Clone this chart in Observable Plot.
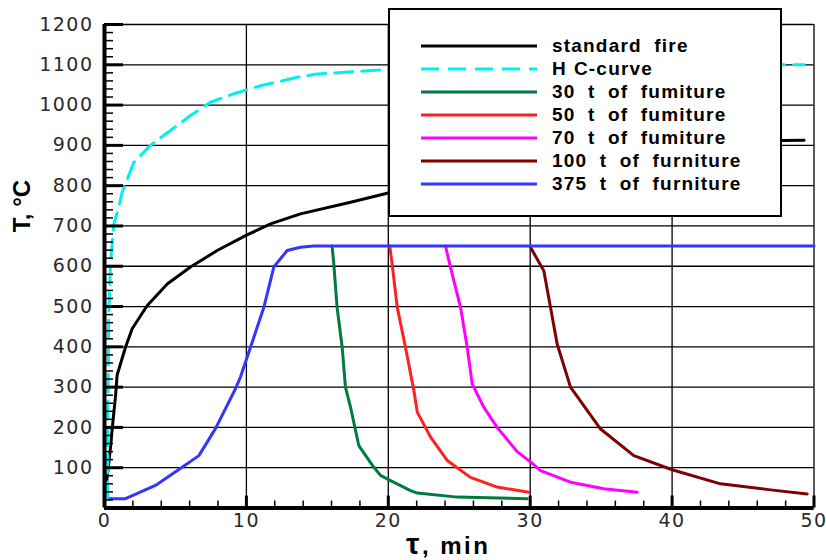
<!DOCTYPE html>
<html><head><meta charset="utf-8">
<script src="https://cdn.jsdelivr.net/npm/d3@7"></script>
<script src="https://cdn.jsdelivr.net/npm/@observablehq/plot@0.6"></script>
<style>
body{margin:0;background:#fff;}
#wrap{position:relative;width:826px;height:560px;overflow:hidden;}
.chart text{letter-spacing:1.5px;fill:#2a2a2a;}
.ttl{position:absolute;font-family:"Liberation Sans",Arial,sans-serif;font-weight:bold;color:#000;white-space:nowrap;line-height:1;}
#legend{position:absolute;left:388px;top:8px;width:394px;height:209px;box-sizing:border-box;border:2px solid #000;background:#fff;}
.lrow{position:absolute;left:0;height:20px;}
.lrow svg{position:absolute;left:31px;top:0;}
.lrow span{position:absolute;left:162px;top:0;font:bold 19px "Liberation Sans",Arial,sans-serif;line-height:20px;letter-spacing:1.2px;word-spacing:6px;white-space:nowrap;color:#000;}
</style></head>
<body><div id="wrap"></div>
<script>
// ---- data ----
const seriesNames = ["standard fire","HC-curve","30 t of fumiture","50 t of fumiture","70 t of fumiture","100 t of furniture","375 t of furniture"];
const seriesColors = ["#000000","#00f0f0","#007a3d","#ff2020","#ff00ff","#7f0000","#3535ff"];
const seriesDash = [null,"18,9",null,null,null,null,null];

const xTicks = [0,10,20,30,40,50];
const xMinor = [2,4,6,8,12,14,16,18,22,24,26,28,32,34,36,38,42,44,46,48];
const yTicks = [100,200,300,400,500,600,700,800,900,1000,1100,1200];
const yMinor = [20,40,60,80,120,140,160,180,220,240,260,280,320,340,360,380,420,440,460,480,520,540,560,580,620,640,660,680,720,740,760,780,820,840,860,880,920,940,960,980,1020,1040,1060,1080,1120,1140,1160,1180];

const stdTime = [0,0.3,0.45,0.54,0.78,0.89,1.48,1.95,3.0,4.42,6.06,7.94,9.94,11.7,13.81,17.34,19.92,25,30,40,47.8,49.3];
const stdTemp = [20,110,160,196,279,330,399,445,502,556,598,639,676,705,730,759,781,815,842,885,912,913];

const hcTime = [0.15,0.22,0.24,0.3,0.42,0.66,1.0,1.25,1.48,2.07,3.24,4.65,6.06,7.47,9.11,10.99,13.58,14.99,19.92,25,30,40,47.8,49.3];
const hcTemp = [20,30,250,480,606,705,746,784,804,858,900,937,974,1007,1028,1048,1069,1077,1088,1093,1096,1099,1100,1100];

const f30Time = [16.04,16.16,16.39,16.75,16.98,17.34,17.92,18.98,19.45,20.16,21.57,22.04,24.86,29.79];
const f30Temp = [650,606,498,399,300,250,155,101,81,68,43,37,27,23];

const f50Time = [20.1,20.27,20.63,21.21,21.8,22.04,22.98,24.15,25.79,27.67,29.9];
const f50Temp = [650,606,498,399,292,238,176,118,76,52,39];

const f70Time = [24.03,24.38,25.09,25.56,25.91,26.73,27.67,29.08,30.0,30.73,32.84,35.19,37.54];
const f70Temp = [650,598,498,399,308,250,200,140,115,93,64,48,39];

const f100Time = [29.97,30.96,31.43,31.9,32.84,34.96,37.3,40.0,43.41,46.94,49.52];
const f100Temp = [650,589,498,407,300,196,130,95,60,45,35];

const f375Time = [0.07,1.48,3.59,5.47,6.65,7.82,9.23,9.58,10.29,11.23,11.93,12.87,13.81,14.75,50];
const f375Temp = [23,23,56,101,130,197,296,325,399,498,598,639,647,650,650];

// ---- build ----
const rows = (name, ts, vs) => ts.map((t, i) => ({series: name, t, T: vs[i]}));
const solid = [
  ...rows(seriesNames[0], stdTime, stdTemp),
  ...rows(seriesNames[2], f30Time, f30Temp),
  ...rows(seriesNames[3], f50Time, f50Temp),
  ...rows(seriesNames[4], f70Time, f70Temp),
  ...rows(seriesNames[5], f100Time, f100Temp),
  ...rows(seriesNames[6], f375Time, f375Temp)
];
const hc = rows(seriesNames[1], hcTime, hcTemp);

const chart = Plot.plot({
  width: 826, height: 560,
  marginLeft: 104, marginRight: 12.5, marginTop: 24, marginBottom: 52.5,
  className: "chart",
  style: {fontFamily: "'DejaVu Sans', sans-serif", background: "#fff"},
  x: {domain: [0, 50], label: null},
  y: {domain: [0, 1200], label: null},
  color: {domain: seriesNames, range: seriesColors},
  marks: [
    Plot.gridX(xTicks, {stroke: "#000", strokeOpacity: 1, strokeWidth: 1.3}),
    Plot.gridY([0, ...yTicks], {stroke: "#000", strokeOpacity: 1, strokeWidth: 1.3}),
    Plot.line(solid, {x: "t", y: "T", z: "series", stroke: "series", strokeWidth: 3}),
    Plot.line(hc, {x: "t", y: "T", stroke: seriesColors[1], strokeWidth: 3, strokeDasharray: seriesDash[1]}),
    Plot.axisY(yMinor, {anchor: "left", tickSize: 9, dx: 9, strokeWidth: 1.5, tickFormat: () => "", label: null}),
    Plot.axisY(yTicks, {anchor: "left", tickSize: 19, dx: 19, strokeWidth: 3, tickFormat: () => "", label: null}),
    Plot.axisX(xMinor, {anchor: "bottom", tickSize: 7, dy: -7, strokeWidth: 1.5, tickFormat: () => "", label: null}),
    Plot.axisX(xTicks.slice(1), {anchor: "bottom", tickSize: 12, dy: -12, strokeWidth: 3, tickFormat: () => "", label: null}),
    Plot.ruleX([0], {stroke: "#000", strokeWidth: 4}),
    Plot.ruleY([0], {stroke: "#000", strokeWidth: 4}),
    Plot.axisY(yTicks, {anchor: "left", tickSize: 0, tickPadding: 11, fontSize: 19, tickFormat: d => `${d}`, label: null}),
    Plot.axisX(xTicks, {anchor: "bottom", tickSize: 0, tickPadding: 5, fontSize: 19, tickFormat: d => `${d}`, label: null})
  ]
});
const wrap = document.getElementById("wrap");
wrap.appendChild(chart);

// axis titles
const yt = document.createElement("div");
yt.className = "ttl";
yt.style.cssText = "left:22px;top:206px;font-size:24px;transform:translate(-50%,-50%) rotate(-90deg);";
yt.textContent = "T, °C";
wrap.appendChild(yt);

const xt = document.createElement("div");
xt.className = "ttl";
xt.style.cssText = "left:406px;top:529px;font-size:24px;letter-spacing:2.5px;";
xt.innerHTML = '<span style="font-size:30px">τ</span>, min';
wrap.appendChild(xt);

// legend
const lg = document.createElement("div");
lg.id = "legend";
const rowTop = [36, 59, 82, 105, 128, 151, 174];
seriesNames.forEach((name, i) => {
  const r = document.createElement("div");
  r.className = "lrow";
  r.style.top = (rowTop[i] - 10) + "px";
  const dash = seriesDash[i] ? ` stroke-dasharray="${seriesDash[i]}"` : "";
  const label = name === "HC-curve" ? '<span style="position:static;margin-right:7px">H</span>C-curve' : name;
  r.innerHTML = `<svg width="116" height="20"><line x1="0" x2="116" y1="10" y2="10" stroke="${seriesColors[i]}" stroke-width="3"${dash}/></svg><span>${label}</span>`;
  lg.appendChild(r);
});
wrap.appendChild(lg);
</script>
</body></html>
